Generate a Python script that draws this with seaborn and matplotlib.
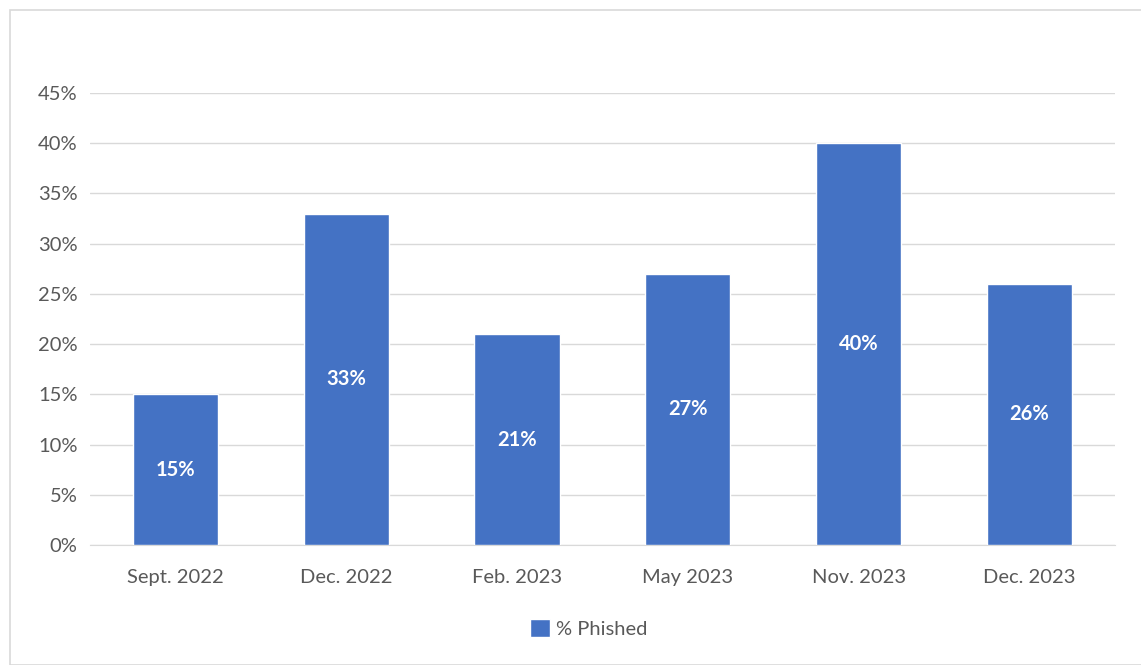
import seaborn as sns
import matplotlib.pyplot as plt
import pandas as pd
from matplotlib.patches import Rectangle, Patch
from matplotlib.ticker import FuncFormatter

# chart values
periods = ["Sept. 2022", "Dec. 2022", "Feb. 2023", "May 2023", "Nov. 2023", "Dec. 2023"]
phished = [0.15, 0.33, 0.21, 0.27, 0.40, 0.26]
series_name = "% Phished"

df = pd.DataFrame({"period": periods, "value": phished})

sns.set_style("white")
plt.rcParams['font.family'] = ['Lato', 'DejaVu Sans']

bar_color = "#4472C4"
text_color = "#595959"

fig = plt.figure(figsize=(11.41, 6.65), dpi=100)
ax = fig.add_axes([0.0789, 0.1805, 0.8981, 0.6797])

sns.barplot(data=df, x="period", y="value", color=bar_color, width=0.5,
            saturation=1, ax=ax, zorder=3)

ax.set_ylim(0, 0.45)
ax.set_xlim(-0.5, len(periods) - 0.5)
ax.set_yticks([i * 0.05 for i in range(10)])
ax.yaxis.set_major_formatter(FuncFormatter(lambda v, p: f"{round(v * 100)}%"))
ax.grid(axis="y", color="#D9D9D9", linewidth=1, zorder=0)
for s in ["top", "right", "left"]:
    ax.spines[s].set_visible(False)
ax.spines["bottom"].set_color("#D9D9D9")
ax.tick_params(axis="both", length=0, labelsize=14.5, colors=text_color)
ax.tick_params(axis="y", pad=9)
ax.tick_params(axis="x", pad=17)
ax.set_xlabel("")
ax.set_ylabel("")

# value labels centred in the bars
for bar, v in zip(ax.patches, phished):
    ax.text(bar.get_x() + bar.get_width() / 2, v / 2, f"{round(v * 100)}%",
            ha="center", va="center", color="white", fontsize=14.5,
            fontweight="bold", zorder=4)

# legend at the bottom
fig.legend(handles=[Patch(facecolor=bar_color, label=series_name)],
           loc="center", bbox_to_anchor=(0.516, 0.055), frameon=False,
           fontsize=14.5, labelcolor=text_color, handlelength=1.0,
           handleheight=1.0, handletextpad=0.3)

# outer chart border
fig.patches.append(Rectangle((10 / 1141, 0), 1.2, 1 - 10 / 665,
                             transform=fig.transFigure, fill=False,
                             edgecolor="#D9D9D9", linewidth=1.2))

fig.savefig("out.png", dpi=100)
